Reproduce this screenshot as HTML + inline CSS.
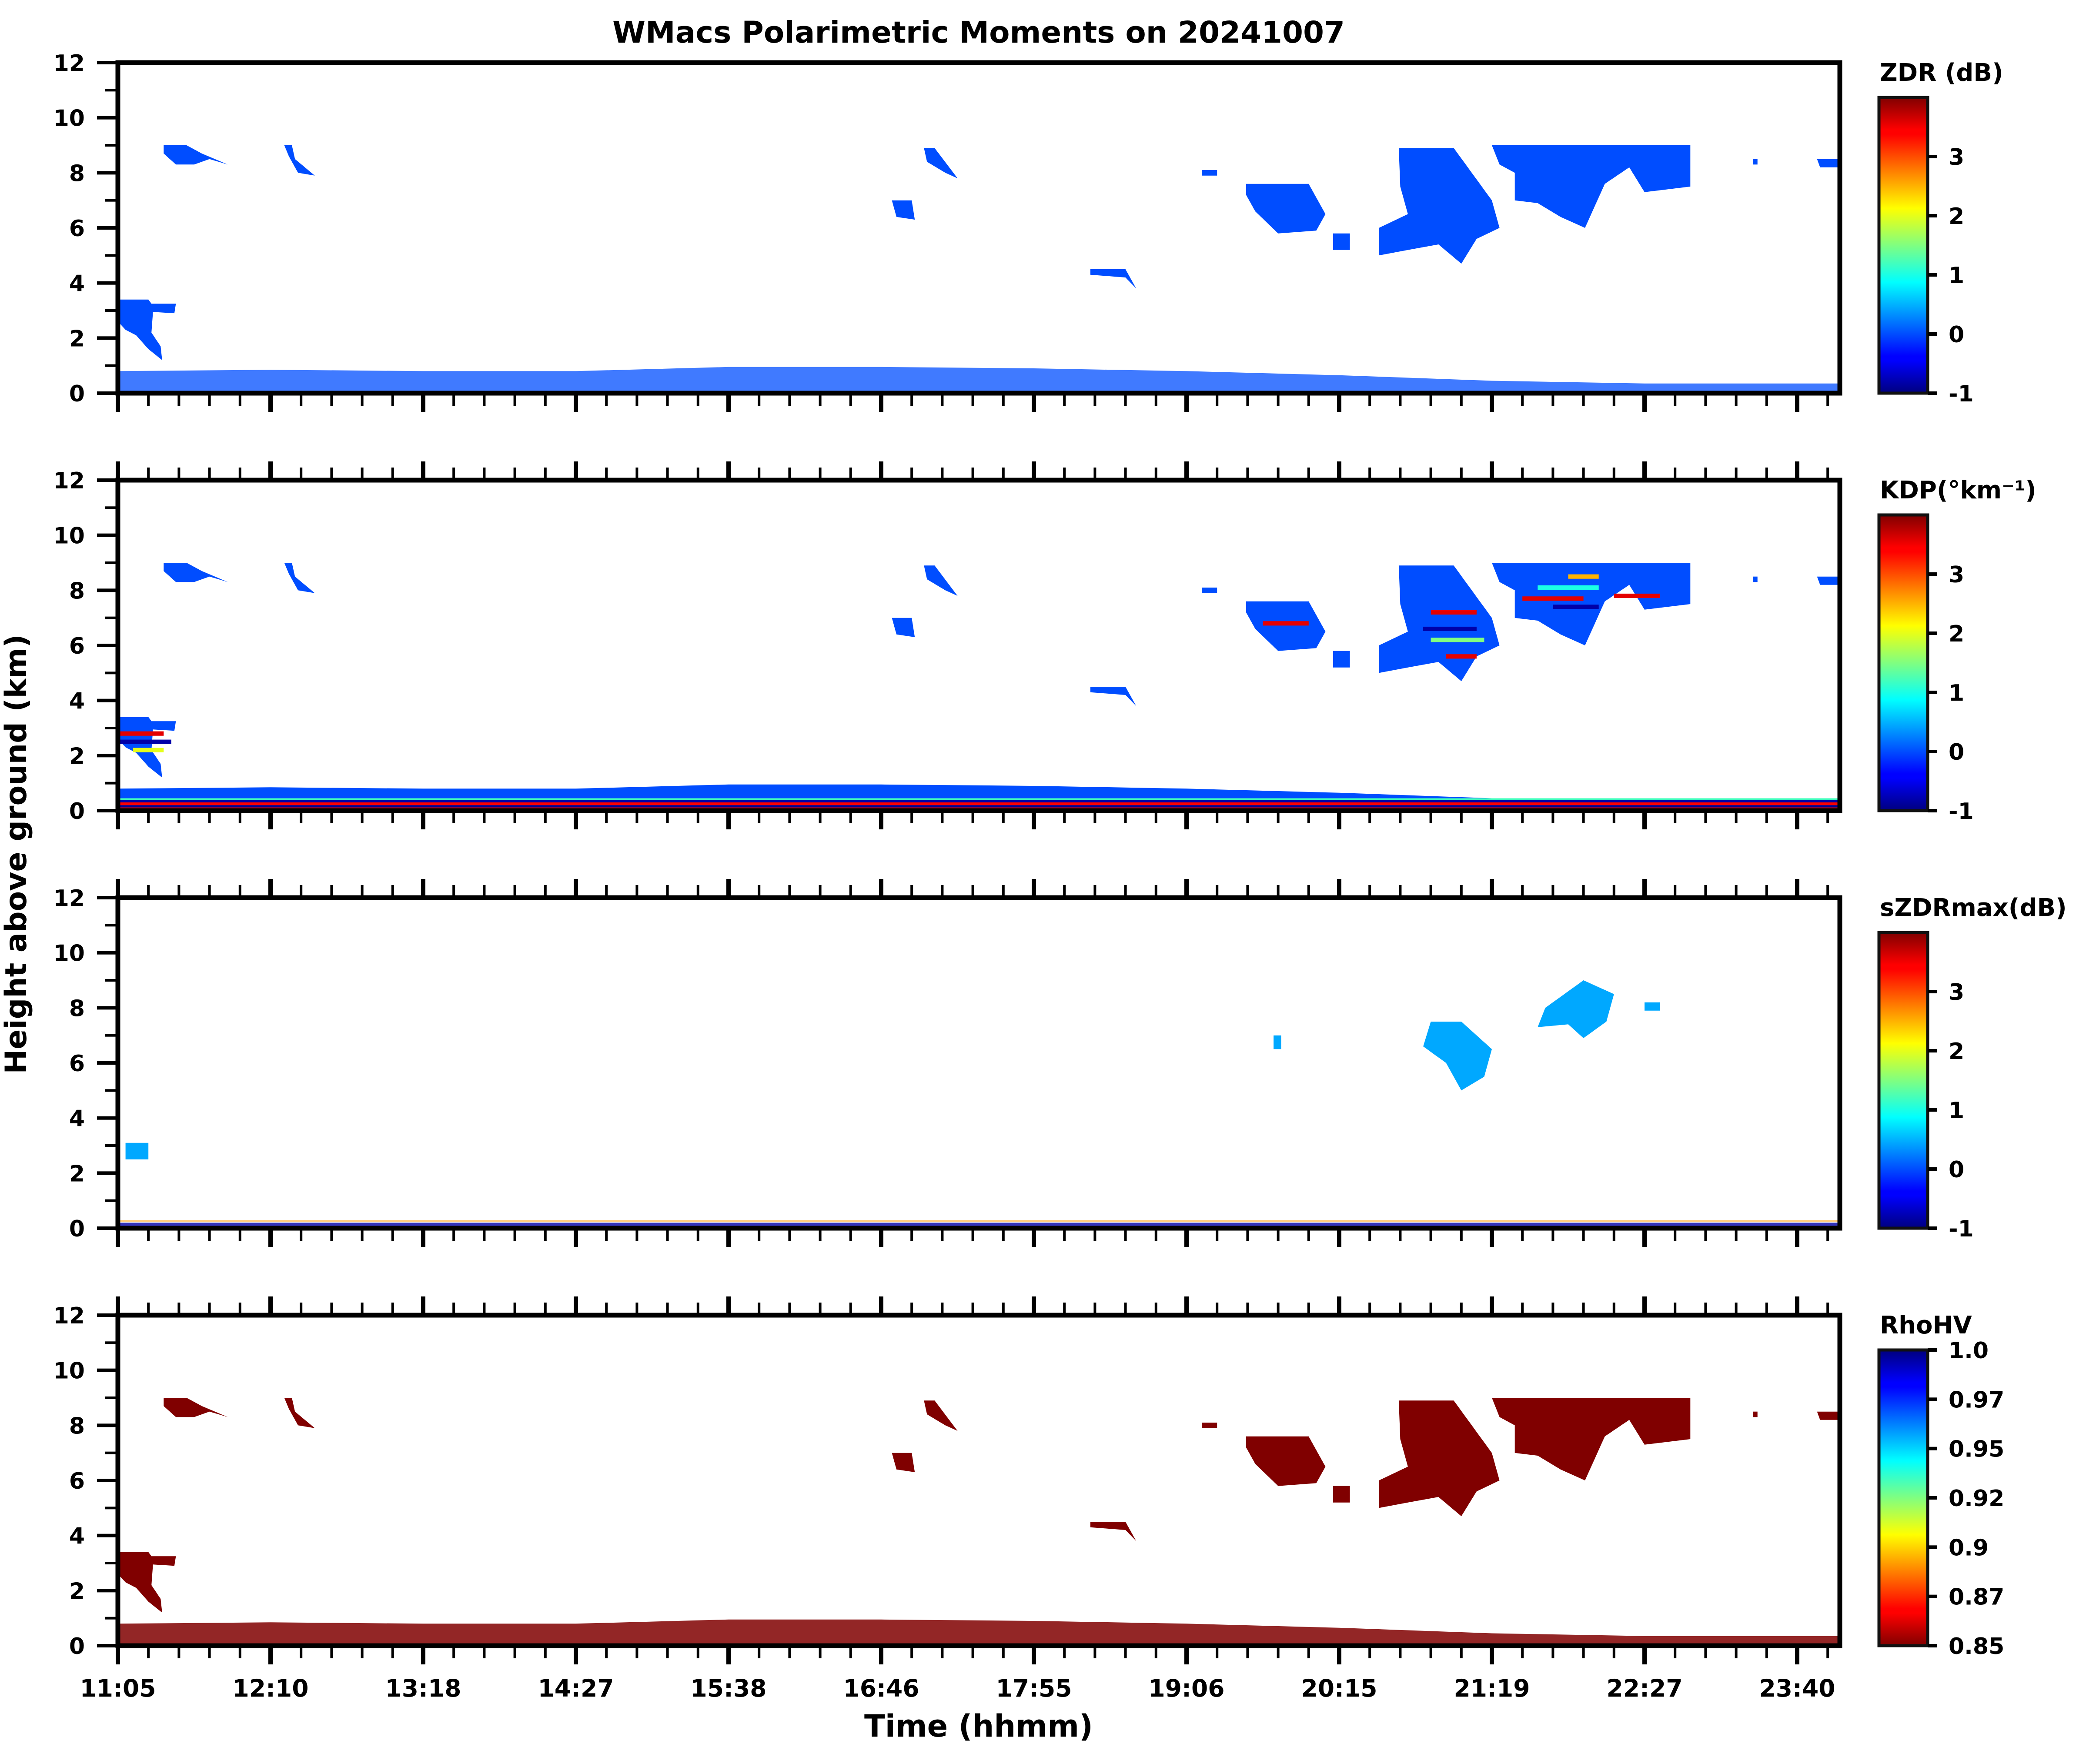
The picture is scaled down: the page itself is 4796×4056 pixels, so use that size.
<!DOCTYPE html>
<html><head><meta charset="utf-8"><style>
html,body{margin:0;padding:0;background:#fff;}
svg{display:block;font-family:"DejaVu Sans","Liberation Sans",sans-serif;font-weight:bold;}
</style></head><body>
<svg id="fig" xmlns="http://www.w3.org/2000/svg" width="4796" height="4056" viewBox="0 0 4796 4056">
<defs>
<linearGradient id="jet" x1="0" y1="1" x2="0" y2="0">
<stop offset="0" stop-color="#00007f"/><stop offset="0.11" stop-color="#0000ff"/><stop offset="0.125" stop-color="#0000ff"/><stop offset="0.375" stop-color="#00ffff"/><stop offset="0.5" stop-color="#80ff80"/><stop offset="0.625" stop-color="#ffff00"/><stop offset="0.875" stop-color="#ff0000"/><stop offset="0.89" stop-color="#ff0000"/><stop offset="1" stop-color="#800000"/>
</linearGradient>
<linearGradient id="jetr" x1="0" y1="0" x2="0" y2="1">
<stop offset="0" stop-color="#00007f"/><stop offset="0.11" stop-color="#0000ff"/><stop offset="0.125" stop-color="#0000ff"/><stop offset="0.375" stop-color="#00ffff"/><stop offset="0.5" stop-color="#80ff80"/><stop offset="0.625" stop-color="#ffff00"/><stop offset="0.875" stop-color="#ff0000"/><stop offset="0.89" stop-color="#ff0000"/><stop offset="1" stop-color="#800000"/>
</linearGradient>
</defs>
<text x="2250" y="98" text-anchor="middle" font-size="69">WMacs Polarimetric Moments on 20241007</text>
<text x="2250" y="3993" text-anchor="middle" font-size="70">Time (hhmm)</text>
<text transform="translate(60,1964) rotate(-90)" text-anchor="middle" font-size="68">Height above ground (km)</text>
</svg>
<script>
// ---- data ----
const timeLabels = ["11:05","12:10","13:18","14:27","15:38","16:46","17:55","19:06","20:15","21:19","22:27","23:40"];
const heightTicks = [0,2,4,6,8,10,12];
const panelNames = ["zdr","kdp","szdrmax","rhohv"];
const cbarTitles = ["ZDR (dB)","KDP(°km⁻¹)","sZDRmax(dB)","RhoHV"];
const cbarTickLabels = [["-1","0","1","2","3"],["-1","0","1","2","3"],["-1","0","1","2","3"],["0.85","0.87","0.9","0.92","0.95","0.97","1.0"]];
const cbarTickValues = [[-1,0,1,2,3],[-1,0,1,2,3],[-1,0,1,2,3],[0.85,0.875,0.9,0.925,0.95,0.975,1.0]];
const cbarRanges = [[-1,4],[-1,4],[-1,4],[0.85,1.0]];
const cloudShapes = [
 [0,3.4, 0.2,3.4, 0.22,3.25, 0.38,3.25, 0.37,2.9, 0.23,2.95, 0.22,2.2, 0.28,1.7, 0.29,1.2, 0.2,1.6, 0.12,2.1, 0.05,2.3, 0,2.6],
 [0.3,9, 0.45,9, 0.55,8.7, 0.72,8.3, 0.6,8.5, 0.5,8.3, 0.38,8.3, 0.3,8.7],
 [1.09,9, 1.14,9, 1.16,8.5, 1.29,7.9, 1.18,8.0, 1.12,8.6],
 [5.28,8.9, 5.35,8.9, 5.5,7.8, 5.42,8.0, 5.3,8.4],
 [5.07,7.0, 5.2,7.0, 5.22,6.3, 5.1,6.4],
 [6.37,4.5, 6.6,4.5, 6.67,3.8, 6.6,4.2, 6.37,4.3],
 [7.1,8.1, 7.2,8.1, 7.2,7.9, 7.1,7.9],
 [7.39,7.6, 7.8,7.6, 7.91,6.5, 7.85,5.9, 7.6,5.8, 7.45,6.6, 7.39,7.2],
 [7.96,5.8, 8.07,5.8, 8.07,5.2, 7.96,5.2],
 [8.39,8.9, 8.75,8.9, 9.0,7.0, 9.05,6.0, 8.9,5.6, 8.8,4.7, 8.65,5.4, 8.45,5.2, 8.26,5.0, 8.26,6.0, 8.45,6.5, 8.4,7.5],
 [9.0,9.0, 10.3,9.0, 10.3,7.5, 10.0,7.3, 9.9,8.2, 9.74,7.6, 9.61,6.0, 9.45,6.4, 9.3,6.9, 9.15,7.0, 9.15,8.0, 9.05,8.3],
 [10.71,8.5, 10.74,8.5, 10.74,8.3, 10.71,8.3],
 [11.13,8.5, 11.28,8.5, 11.28,8.2, 11.15,8.2]
];
const szdrShapes = [
 [8.6,7.5, 8.8,7.5, 9.0,6.5, 8.95,5.5, 8.8,5.0, 8.7,6.0, 8.55,6.6],
 [9.35,8.0, 9.6,9.0, 9.8,8.5, 9.75,7.5, 9.6,6.9, 9.5,7.4, 9.3,7.3],
 [0.05,3.1, 0.2,3.1, 0.2,2.5, 0.05,2.5],
 [7.57,7.0, 7.62,7.0, 7.62,6.5, 7.57,6.5],
 [10.0,8.2, 10.1,8.2, 10.1,7.9, 10.0,7.9]
];
const groundU = [0,1,2,3,4,5,6,7,8,9,10,11,11.28];
const groundTop = [0.8,0.85,0.8,0.8,0.95,0.95,0.9,0.8,0.65,0.45,0.35,0.35,0.35];
const kdpStreaks = [[0,0.3,2.8,3.5],[0,0.35,2.5,-0.8],[0.1,0.3,2.2,2],[8.6,8.9,7.2,3.5],[8.55,8.9,6.6,-0.8],[8.6,8.95,6.2,1.5],[8.7,8.9,5.6,3.5],[9.2,9.6,7.7,3.5],[9.3,9.7,8.1,1],[9.4,9.7,7.4,-0.8],[9.5,9.7,8.5,2.5],[7.5,7.8,6.8,3.5],[9.8,10.1,7.8,3.5]];
const kdpGroundBands = [[0.0,0.12,3.6],[0.12,0.2,-0.9],[0.2,0.3,3.4],[0.3,0.38,-0.8],[0.38,0.45,1.2]];
const zdrValue = 0, szdrValue = 0.45;

// ---- geometry ----
const svg = document.getElementById('fig');
const NS = 'http://www.w3.org/2000/svg';
const L = 271, R = 4230, H = 760, panelTops = [144,1104,2064,3024];
const majorStep = 351;
function xs(u){ return L + u*majorStep; }
function ys(p,km){ return panelTops[p] + H - km*(H/12); }
function jet(f){
  f = Math.max(0,Math.min(1,f));
  const c = v => Math.round(255*Math.max(0,Math.min(1,v)));
  return 'rgb('+c(1.5-Math.abs(4*f-3))+','+c(1.5-Math.abs(4*f-2))+','+c(1.5-Math.abs(4*f-1))+')';
}
function mk(tag, attrs, parent){
  const e = document.createElementNS(NS, tag);
  for (const k in attrs) e.setAttribute(k, attrs[k]);
  (parent||svg).appendChild(e); return e;
}
function poly(p, pts, fill, g){
  let s = [];
  for (let i=0;i<pts.length;i+=2) s.push(xs(pts[i]).toFixed(1)+','+ys(p,pts[i+1]).toFixed(1));
  return mk('polygon',{points:s.join(' '),fill:fill},g);
}
function groundPath(p, scale){
  let s = 'M'+xs(groundU[0])+','+ys(p,0);
  for (let i=0;i<groundU.length;i++) s += ' L'+xs(groundU[i]).toFixed(1)+','+ys(p,groundTop[i]*scale).toFixed(1);
  s += ' L'+xs(groundU[groundU.length-1])+','+ys(p,0)+' Z';
  return s;
}

for (let p=0;p<4;p++){
  const g = mk('g',{});
  
  
  const clip = mk('clipPath',{id:'clip'+p}, g);
  mk('rect',{x:L,y:panelTops[p],width:R-L,height:H},clip);
  const data = mk('g',{'clip-path':'url(#clip'+p+')'},g);
  
  
  const rng = cbarRanges[p];
  const fr = v => (v-rng[0])/(rng[1]-rng[0]);
  if (p===0 || p===1 || p===3){
    const col = p===3 ? '#800000' : jet(fr(zdrValue));
    cloudShapes.forEach(sh => {
      const e = poly(p, sh, col, data);
      
      
    });
    const gr = mk('path',{d:groundPath(p,1),fill:col,opacity:p===0?0.75:(p===3?0.85:1)},data);
    
    
    if (p===1){
      kdpStreaks.forEach(s => {
        const r = mk('rect',{x:xs(s[0]),y:ys(p,s[2]+0.08),width:xs(s[1])-xs(s[0]),height:H/12*0.16,fill:jet(fr(s[3]))},data);
        
        
      });
      kdpGroundBands.forEach(b => {
        const r = mk('rect',{x:L,y:ys(p,b[1]),width:R-L,height:ys(p,b[0])-ys(p,b[1]),fill:jet(fr(b[2]))},data);
        
        
      });
    }
  } else {
    szdrShapes.forEach(sh => {
      const e = poly(p, sh, jet(fr(szdrValue)), data);
      
      
    });
    const r1 = mk('rect',{x:L,y:ys(p,0.2),width:R-L,height:H/12*0.2,fill:jet(fr(-0.8)),opacity:0.8},data);
    
    
    const r2 = mk('rect',{x:L,y:ys(p,0.3),width:R-L,height:H/12*0.08,fill:jet(fr(2.6)),opacity:0.5},data);
    
    
  }
  const top = panelTops[p], bot = top+H;
  for (let k=0; L+k*majorStep/5 <= R-10; k++){
    const x = L + k*majorStep/5, maj = k%5===0;
    const t = mk('rect',{x:x-(maj?5:3),y:bot,width:maj?10:6,height:maj?43:29,fill:'#000'},g);
    
    
    if (p>0){
      const t2 = mk('rect',{x:x-(maj?5:3),y:top-(maj?43:29),width:maj?10:6,height:maj?43:29,fill:'#000'},g);
      
      
    }
    if (p===3 && maj){
      const lbl = mk('text',{x:x,y:3901,'text-anchor':'middle','font-size':55},g);
      lbl.textContent = timeLabels[k/5];
      
      
    }
  }
  for (let km=0; km<=12; km++){
    const y = ys(p,km), maj = km%2===0;
    const t = mk('rect',{x:L-(maj?48:30),y:y-(maj?4:3),width:maj?48:30,height:maj?8:6,fill:'#000'},g);
    
    
  }
  heightTicks.forEach(v => {
    const lbl = mk('text',{x:195,y:ys(p,v)+19,'text-anchor':'end','font-size':52},g);
    lbl.textContent = String(v);
    
    
  });
  const fr2 = mk('rect',{x:L,y:top,width:R-L,height:H,fill:'none',stroke:'#000','stroke-width':11},g);
  
  
  const cb = mk('g',{},g);
  
  
  const cbT = top+80, cbB = bot, cbL = 4320, cbR = 4432;
  mk('rect',{x:cbL,y:cbT,width:cbR-cbL,height:cbB-cbT,fill:p===3?'url(#jetr)':'url(#jet)',stroke:'#111','stroke-width':7},cb);
  const title = mk('text',{x:4322,y:top+42,'font-size':56},cb);
  title.textContent = cbarTitles[p];
  
  
  cbarTickValues[p].forEach((v,i) => {
    const y = cbB - (v-rng[0])/(rng[1]-rng[0])*(cbB-cbT);
    mk('rect',{x:cbR,y:y-4,width:22,height:8,fill:'#000'},cb);
    const lbl = mk('text',{x:4480,y:y+19,'font-size':52},cb);
    lbl.textContent = cbarTickLabels[p][i];
    
    
  });
}
</script>
</body></html>
